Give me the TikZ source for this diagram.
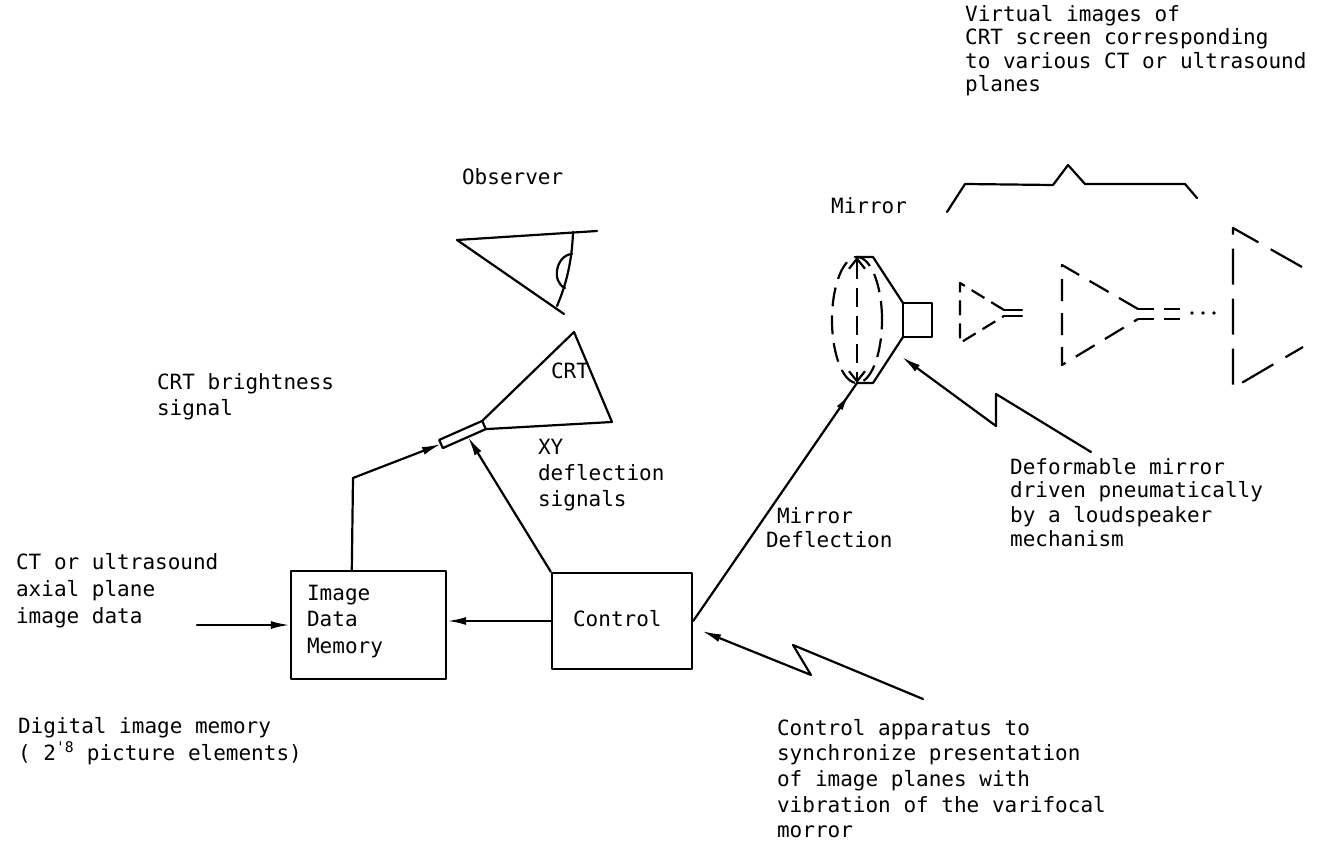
\documentclass[tikz,border=0pt]{standalone}
\usepackage{fontspec}
\setmonofont{DejaVu Sans Mono}
\usetikzlibrary{arrows.meta,decorations.markings}

% several typed lines stacked; the box baseline is the first line's baseline
\newcommand\textlines[2]{\vtop{\baselineskip=#1\relax\lineskiplimit=-100pt\relax\halign{##\hfil\cr#2\crcr}}}

\begin{document}
\begin{tikzpicture}[x=1pt,y=-1pt,
  line width=2.2pt, line join=round, line cap=round,
  lbl/.style={anchor=base west, inner sep=0pt, font=\ttfamily\fontsize{21}{25}\selectfont},
  box/.style={draw, line width=2.4pt, inner sep=0pt},
  tip/.style={-{Latex[length=19pt,width=8pt]}},
  backtip/.style={{Latex[length=19pt,width=8pt]}-},
  midtip/.style={postaction={decorate}, decoration={markings,
      mark=at position 0.95 with {\arrow{Latex[length=16pt,width=7pt]}}}},
  dsmall/.style={line cap=butt, dash pattern=on 15pt off 8pt},
  dmid/.style={line cap=butt, dash pattern=on 22pt off 12pt},
  dbig/.style={line cap=butt, dash pattern=on 36pt off 14pt},
  dmirror/.style={line cap=butt, dash pattern=on 19pt off 9pt},
  barbs/.style={{Straight Barb[length=10pt,width=16pt]}-{Straight Barb[length=10pt,width=16pt]}}]
\useasboundingbox (0,0) rectangle (1318,842);

% ---------- blocks ----------
\node[box, minimum width=155pt, minimum height=108pt] (idm) at (368.5,625) {};
\node[box, minimum width=140pt, minimum height=96pt] (ctrl) at (622,621) {};
\node[lbl] (idmtext) at (306,600) {\textlines{26.5pt}{Image\cr Data\cr Memory}};
\node[lbl] (ctrltext) at (572,626) {Control};

% ---------- observer's eye ----------
\draw (457,240) -- (597,231);
\draw (457,240) -- (564,314);
\draw (573,232) .. controls (572,262) and (566,285) .. (557,306);
\draw (572,254) .. controls (556,255) and (551,282) .. (565,288);

% ---------- CRT with its neck ----------
\coordinate (neckS) at (441,444);
\coordinate (neckXY) at (468,437);
\draw (439.2,439.9) -- (482.2,420.9) -- (485.8,429.1) -- (442.8,448.1) -- cycle;
\draw (482.2,420.9) -- (574,332) -- (612,422) -- (485.8,429.1);

% ---------- signal lines ----------
\coordinate (src) at (197,625);
\coordinate (bend) at (353,478);
\draw[tip] (src) -- (idm.west);
\draw[tip] (ctrl.west) -- (ctrl.west -| idm.east);
\draw[tip] ([xshift=62pt]idm.north west) -- (bend) -- (neckS);
\draw[tip] (ctrl.north west) -- (neckXY);

% ---------- varifocal mirror and loudspeaker ----------
\coordinate (mirT) at (857,257);
\coordinate (mirB) at (857,383);
\draw[dmirror] (857,320) ellipse [x radius=25pt, y radius=63pt];
\draw[dmirror, barbs] (mirT) -- (mirB);
\draw (mirT) -- (873,257) -- (903,303);
\draw (903,303) rectangle (932,337);
\draw (903,337) -- (873,383) -- (mirB);
\draw[midtip] (ctrl.east) -- (mirB);

% ---------- zigzag pointers ----------
\coordinate (ctrlnote) at (702,631);
\coordinate (ctrlnoteend) at (923,699);
\draw[backtip] (ctrlnote) -- (811,675) -- (793,645) -- (ctrlnoteend);
\coordinate (spknote) at (902,357);
\coordinate (spknoteend) at (1091,452);
\draw[backtip] (spknote) -- (996,426) -- (996,394) -- (spknoteend);

% ---------- brace over the virtual images ----------
\draw (947,212) -- (965,184) -- (1053,185) -- (1068,165) -- (1085,184) -- (1185,184) -- (1197,198);

% ---------- virtual images of the CRT screen ----------
\draw[dsmall] (1004,310) -- (960,283) -- (960,343) -- (1004,316);
\draw (1004,310) -- (1022,310);
\draw (1004,316) -- (1022,316);

\draw[dmid] (1138,309) -- (1062,265) -- (1062,365) -- (1138,319);
\draw[line cap=butt, dash pattern=on 16pt off 10pt] (1138,309) -- (1180,309);
\draw[line cap=butt, dash pattern=on 16pt off 10pt] (1138,319) -- (1180,319);
\fill (1192,313) circle (1.8pt) (1203,313) circle (1.8pt) (1214,313) circle (1.8pt);

\draw[dbig] (1302,267) -- (1233,228) -- (1233,388) -- (1303,347);

% ---------- labels ----------
\node[lbl] (virt) at (964,21.5) {\textlines{23.5pt}{Virtual images of\cr CRT screen corresponding\cr to various CT or ultrasound\cr planes}};
\node[lbl] (observer) at (461,185) {Observer};
\node[lbl] (mirror) at (830,214) {Mirror};
\node[lbl] (crtlabel) at (550,378) {CRT};
\node[lbl] (bright) at (156,390) {\textlines{25pt}{CRT brightness\cr signal}};
\node[lbl] (xy) at (537,454) {\textlines{26pt}{XY\cr deflection\cr signals}};
\node[lbl] (ctdata) at (15,569) {\textlines{27pt}{CT or ultrasound\cr axial plane\cr image data}};
\node[lbl] (mirdefl) at (765,523) {\textlines{24.5pt}{\hspace{11pt}Mirror\cr Deflection}};
\node[lbl] (deform) at (1009,474) {\textlines{24pt}{Deformable mirror\cr driven pneumatically\cr by a loudspeaker\cr mechanism}};
\node[lbl] (digital) at (17,733) {\textlines{27pt}{Digital image memory\cr( 2\textsuperscript{'8} picture elements)}};
\node[lbl] (apparatus) at (776,735) {\textlines{25.7pt}{Control apparatus to\cr synchronize presentation\cr of image planes with\cr vibration of the varifocal\cr morror}};
\end{tikzpicture}
\end{document}
